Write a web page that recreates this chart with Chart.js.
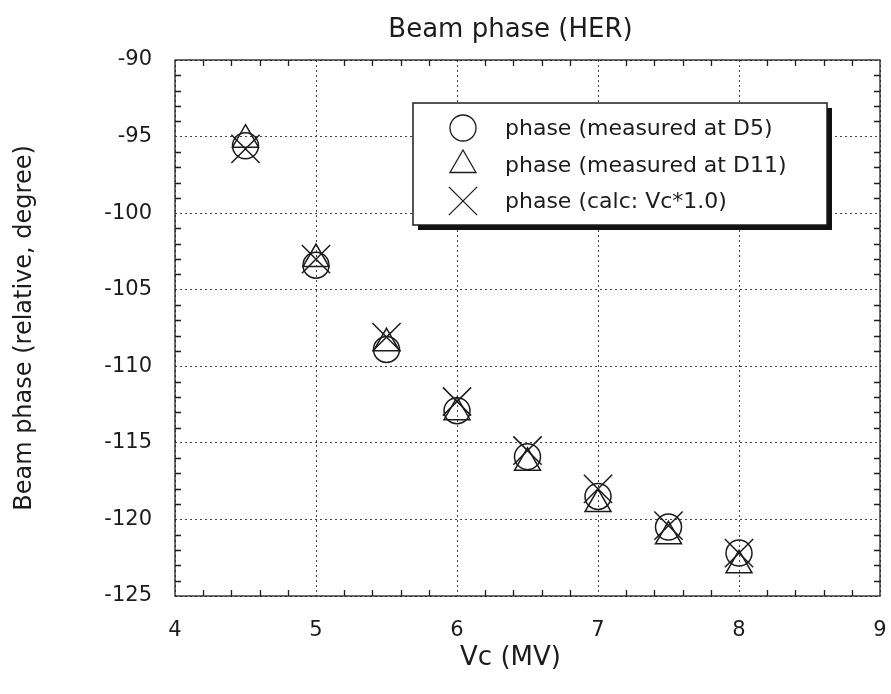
<!DOCTYPE html>
<html>
<head>
<meta charset="utf-8">
<script src="https://cdn.jsdelivr.net/npm/chart.js@4.4.1/dist/chart.umd.min.js"></script>
<style>
  html, body { margin: 0; padding: 0; background: #fff; }
  #wrap { width: 891px; height: 694px; }
</style>
</head>
<body>
<div id="wrap"><canvas id="beamPhase" width="891" height="694"></canvas></div>
<script>
// --- Data ---
const VC_MV = [4.5, 5, 5.5, 6, 6.5, 7, 7.5, 8];
const PHASE_D5 = [-95.6, -103.4, -108.9, -112.9, -115.9, -118.5, -120.5, -122.2];
const PHASE_D11 = [-95.2, -103.0, -108.5, -113.0, -116.3, -119.0, -121.1, -123.0];
const PHASE_CALC = [-95.8, -103.0, -108.1, -112.3, -115.5, -118.0, -120.4, -122.2];

const SERIES_LABELS = [
  "phase (measured at D5)",
  "phase (measured at D11)",
  "phase (calc: Vc*1.0)",
];
const X_TICKS = [4, 5, 6, 7, 8, 9];
const Y_TICKS = [-125, -120, -115, -110, -105, -100, -95, -90];

const CHART_TITLE = "Beam phase (HER)";
const X_TITLE = "Vc (MV)";
const Y_TITLE = "Beam phase (relative, degree)";

// --- Style ---
const FONT = "'DejaVu Sans', sans-serif";
const INK = "#1c1c1c";
const MINOR_PER_MAJOR = 5;
const MINOR_LEN = 6;

function toPoints(ys) {
  return VC_MV.map((x, i) => ({ x: x, y: ys[i] }));
}

function makeDataset(label, ys, style, radius) {
  return {
    label: label,
    data: toPoints(ys),
    pointStyle: style,
    pointRadius: radius,
    pointBorderWidth: 1.5,
    pointBorderColor: INK,
    pointBackgroundColor: "rgba(0,0,0,0)",
    showLine: false,
  };
}

function minorValues(majors) {
  const out = [];
  for (let i = 0; i < majors.length - 1; i++) {
    const step = (majors[i + 1] - majors[i]) / MINOR_PER_MAJOR;
    for (let k = 1; k < MINOR_PER_MAJOR; k++) out.push(majors[i] + k * step);
  }
  return out;
}

// frame + inward minor ticks on all four sides
const frameTicksPlugin = {
  id: "frameTicks",
  afterDatasetsDraw(chart) {
    const { ctx, chartArea: a, scales } = chart;
    ctx.save();
    ctx.strokeStyle = INK;
    ctx.lineWidth = 1.3;
    ctx.strokeRect(a.left, a.top, a.right - a.left, a.bottom - a.top);
    ctx.beginPath();
    minorValues(X_TICKS).forEach((v) => {
      const px = Math.round(scales.x.getPixelForValue(v)) + 0.5;
      ctx.moveTo(px, a.bottom);
      ctx.lineTo(px, a.bottom - MINOR_LEN);
      ctx.moveTo(px, a.top);
      ctx.lineTo(px, a.top + MINOR_LEN);
    });
    minorValues(Y_TICKS).forEach((v) => {
      const py = Math.round(scales.y.getPixelForValue(v)) + 0.5;
      ctx.moveTo(a.left, py);
      ctx.lineTo(a.left + MINOR_LEN, py);
      ctx.moveTo(a.right, py);
      ctx.lineTo(a.right - MINOR_LEN, py);
    });
    ctx.stroke();
    ctx.restore();
  },
};

function drawMarker(ctx, style, x, y, r) {
  ctx.beginPath();
  if (style === "circle") {
    ctx.arc(x, y, r, 0, Math.PI * 2);
  } else if (style === "triangle") {
    ctx.moveTo(x, y - r);
    ctx.lineTo(x + r * Math.sin(Math.PI / 3), y + r / 2);
    ctx.lineTo(x - r * Math.sin(Math.PI / 3), y + r / 2);
    ctx.closePath();
  } else {
    const o = r * Math.SQRT1_2;
    ctx.moveTo(x - o, y - o);
    ctx.lineTo(x + o, y + o);
    ctx.moveTo(x + o, y - o);
    ctx.lineTo(x - o, y + o);
  }
  ctx.stroke();
}

// boxed legend with drop shadow, plus main title and x title
const legendBoxPlugin = {
  id: "legendBox",
  afterDraw(chart) {
    const { ctx, chartArea: a } = chart;
    const bx = a.left + 238;
    const by = a.top + 43;
    const bw = 414;
    const bh = 122;
    ctx.save();
    ctx.fillStyle = "#111";
    ctx.fillRect(bx + 5, by + 5, bw, bh);
    ctx.fillStyle = "#fff";
    ctx.fillRect(bx, by, bw, bh);
    ctx.strokeStyle = INK;
    ctx.lineWidth = 1.5;
    ctx.strokeRect(bx, by, bw, bh);

    const rows = [25, 62, 98];
    ctx.font = "22px " + FONT;
    ctx.textBaseline = "middle";
    ctx.textAlign = "left";
    chart.data.datasets.forEach((ds, i) => {
      ctx.strokeStyle = INK;
      ctx.lineWidth = 1.3;
      drawMarker(ctx, ds.pointStyle, bx + 50, by + rows[i], ds.pointRadius);
      ctx.fillStyle = INK;
      ctx.fillText(ds.label, bx + 92, by + rows[i] + 1);
    });

    const cx = (a.left + a.right) / 2 - 17;
    ctx.textAlign = "center";
    ctx.font = "26px " + FONT;
    ctx.fillText(CHART_TITLE, cx, 30);
    ctx.fillText(X_TITLE, cx, 658);
    ctx.restore();
  },
};

function init() {
  const ctx = document.getElementById("beamPhase").getContext("2d");
  new Chart(ctx, {
    type: "scatter",
    data: {
      datasets: [
        makeDataset(SERIES_LABELS[0], PHASE_D5, "circle", 13),
        makeDataset(SERIES_LABELS[1], PHASE_D11, "triangle", 15),
        makeDataset(SERIES_LABELS[2], PHASE_CALC, "crossRot", 20),
      ],
    },
    options: {
      responsive: false,
      animation: false,
      events: [],
      layout: { autoPadding: false, padding: { top: 60, right: 11, bottom: 0, left: 0 } },
      plugins: {
        legend: { display: false },
        title: { display: false },
        tooltip: { enabled: false },
      },
      scales: {
        x: {
          type: "linear",
          min: X_TICKS[0],
          max: X_TICKS[X_TICKS.length - 1],
          afterBuildTicks: (s) => { s.ticks = X_TICKS.map((v) => ({ value: v })); },
          afterFit: (s) => {
            s.height = 98;
            s.paddingLeft = 0;
            s.paddingRight = 0;
          },
          grid: { color: "#444", lineWidth: 1, drawTicks: false },
          border: { display: false, dash: [2, 3] },
          ticks: { color: INK, font: { family: FONT, size: 21 }, padding: 22 },
        },
        y: {
          type: "linear",
          min: Y_TICKS[0],
          max: Y_TICKS[Y_TICKS.length - 1],
          afterBuildTicks: (s) => { s.ticks = Y_TICKS.map((v) => ({ value: v })); },
          afterFit: (s) => {
            s.width = 175;
            s.paddingTop = 0;
            s.paddingBottom = 0;
          },
          grid: { color: "#444", lineWidth: 1, drawTicks: false },
          border: { display: false, dash: [2, 3] },
          ticks: { color: INK, font: { family: FONT, size: 21 }, padding: 23 },
          title: {
            display: true,
            text: Y_TITLE,
            color: INK,
            font: { family: FONT, size: 24 },
            padding: { top: 10, bottom: 0 },
          },
        },
      },
    },
    plugins: [frameTicksPlugin, legendBoxPlugin],
  });
}

document.addEventListener("DOMContentLoaded", init);
</script>
</body>
</html>
